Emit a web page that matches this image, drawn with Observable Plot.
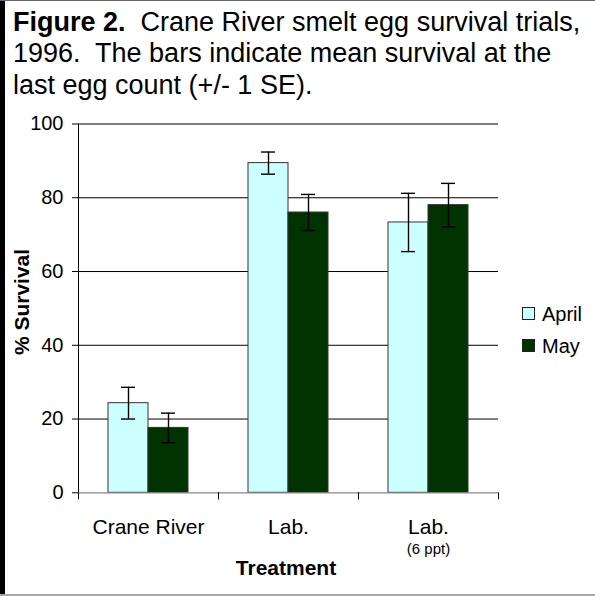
<!DOCTYPE html>
<html>
<head>
<meta charset="utf-8">
<script src="https://cdn.jsdelivr.net/npm/d3@7"></script>
<script src="https://cdn.jsdelivr.net/npm/@observablehq/plot@0.6"></script>
<style>
  html, body { margin: 0; padding: 0; background: #fff; }
  #fig { position: relative; width: 595px; height: 596px; overflow: hidden; font-family: "Liberation Sans", Arial, sans-serif; color: #000; background: #fff; }
  .abs { position: absolute; white-space: pre; }
  .tl { position: absolute; left: 13px; font-size: 27px; line-height: 31.7px; white-space: pre; }
  #chart { position: absolute; left: 0; top: 110px; }
  .lg { position: absolute; font-size: 20px; line-height: 20px; }
  .sw { position: absolute; width: 11px; height: 11px; border: 1.5px solid #222; }
</style>
</head>
<body>
<div id="fig">
  <div class="tl" style="top:6.5px"><span style="font-weight:bold">Figure 2.</span><span>  Crane River smelt egg survival trials,</span></div>
  <div class="tl" style="top:38.2px"><span>1996.  The bars indicate mean survival at the</span></div>
  <div class="tl" style="top:69.9px"><span>last egg count (+/- 1 SE).</span></div>
  <div id="chart"></div>
  <div class="abs" id="ylab" style="left:22px; top:302px; font-size:21px; font-weight:bold; transform: translate(-50%,-50%) rotate(-90deg);">% Survival</div>
  <div class="abs" id="xlab" style="left:286px; top:556px; font-size:21px; font-weight:bold; transform: translateX(-50%);">Treatment</div>
  <div id="legend"></div>
  <div style="position:absolute;left:0;top:0;width:5px;height:596px;background:#000"></div>
  <div style="position:absolute;left:0;top:0;width:595px;height:1px;background:#666"></div>
  <div style="position:absolute;left:0;top:594px;width:595px;height:2px;background:#aaa"></div>
</div>
<script>
// ---- data ----
const treatments = ["Crane River", "Lab.", "Lab. (6 ppt)"];
const tickLabels = ["Crane River", "Lab.", "Lab."];
const subLabels  = ["", "", "(6 ppt)"];
const months = ["April", "May"];
const monthColors = ["#CCFFFF", "#003300"];
const aprilMean = [24.3, 89.4, 73.3];
const aprilSE   = [4.3, 3.0, 7.9];
const mayMean   = [17.6, 76.0, 78.0];
const maySE     = [4.0, 4.9, 5.9];
const yTicks = [0, 20, 40, 60, 80, 100];
const gridTicks = [20, 40, 60, 80, 100];

const rows = [];
treatments.forEach((t, i) => {
  rows.push({treatment: t, month: months[0], mean: aprilMean[i], se: aprilSE[i]});
  rows.push({treatment: t, month: months[1], mean: mayMean[i], se: maySE[i]});
});
rows.forEach(r => { r.lo = r.mean - r.se; r.hi = r.mean + r.se; });

const plot = Plot.plot({
  width: 595,
  height: 486,
  marginLeft: 78,
  marginRight: 97,
  marginTop: 13.5,
  marginBottom: 103.7,
  style: {fontFamily: "'Liberation Sans', Arial, sans-serif", fontSize: "20px", color: "#000", background: "transparent"},
  fx: {domain: treatments, padding: 0, axis: null},
  x: {domain: months, paddingInner: 0, paddingOuter: 0.728, axis: null},
  y: {domain: [0, 100], ticks: yTicks, tickSize: 6, tickPadding: 9, line: true, label: null},
  color: {domain: months, range: monthColors},
  marks: [
    Plot.ruleY(gridTicks, {stroke: "#000", strokeWidth: 1}),
    Plot.barY(rows, {fx: "treatment", x: "month", y: "mean", fill: "month", stroke: "#333", strokeWidth: 1}),
    Plot.ruleX(rows, {fx: "treatment", x: "month", y1: "lo", y2: "hi", stroke: "#000", strokeWidth: 1.4}),
    Plot.tickY(rows, {fx: "treatment", x: "month", y: "lo", insetLeft: 13, insetRight: 13, stroke: "#000", strokeWidth: 1.4}),
    Plot.tickY(rows, {fx: "treatment", x: "month", y: "hi", insetLeft: 13, insetRight: 13, stroke: "#000", strokeWidth: 1.4}),
    Plot.ruleY([0], {stroke: "#888", strokeWidth: 1.2}),
    Plot.frame({anchor: "left", insetTop: 368.8, insetBottom: -6, stroke: "#000"}),
    Plot.frame({anchor: "right", insetTop: 368.8, insetBottom: -6, stroke: "#000"}),
    Plot.text(treatments, {fx: d => d, text: (d, i) => tickLabels[i], frameAnchor: "bottom", lineAnchor: "bottom", dy: 41, fontSize: 21}),
    Plot.text(treatments, {fx: d => d, text: (d, i) => subLabels[i], frameAnchor: "bottom", lineAnchor: "bottom", dy: 61, fontSize: 15})
  ]
});
document.getElementById("chart").appendChild(plot);

// legend (HTML, from the same arrays)
const lg = document.getElementById("legend");
months.forEach((m, i) => {
  const top = 307 + i * 32;
  const sw = document.createElement("div");
  sw.className = "sw";
  sw.style.left = "522px";
  sw.style.top = top + "px";
  sw.style.background = monthColors[i];
  lg.appendChild(sw);
  const tx = document.createElement("div");
  tx.className = "lg";
  tx.style.left = "542px";
  tx.style.top = (top - 3) + "px";
  tx.textContent = m;
  lg.appendChild(tx);
});
</script>
</body>
</html>
